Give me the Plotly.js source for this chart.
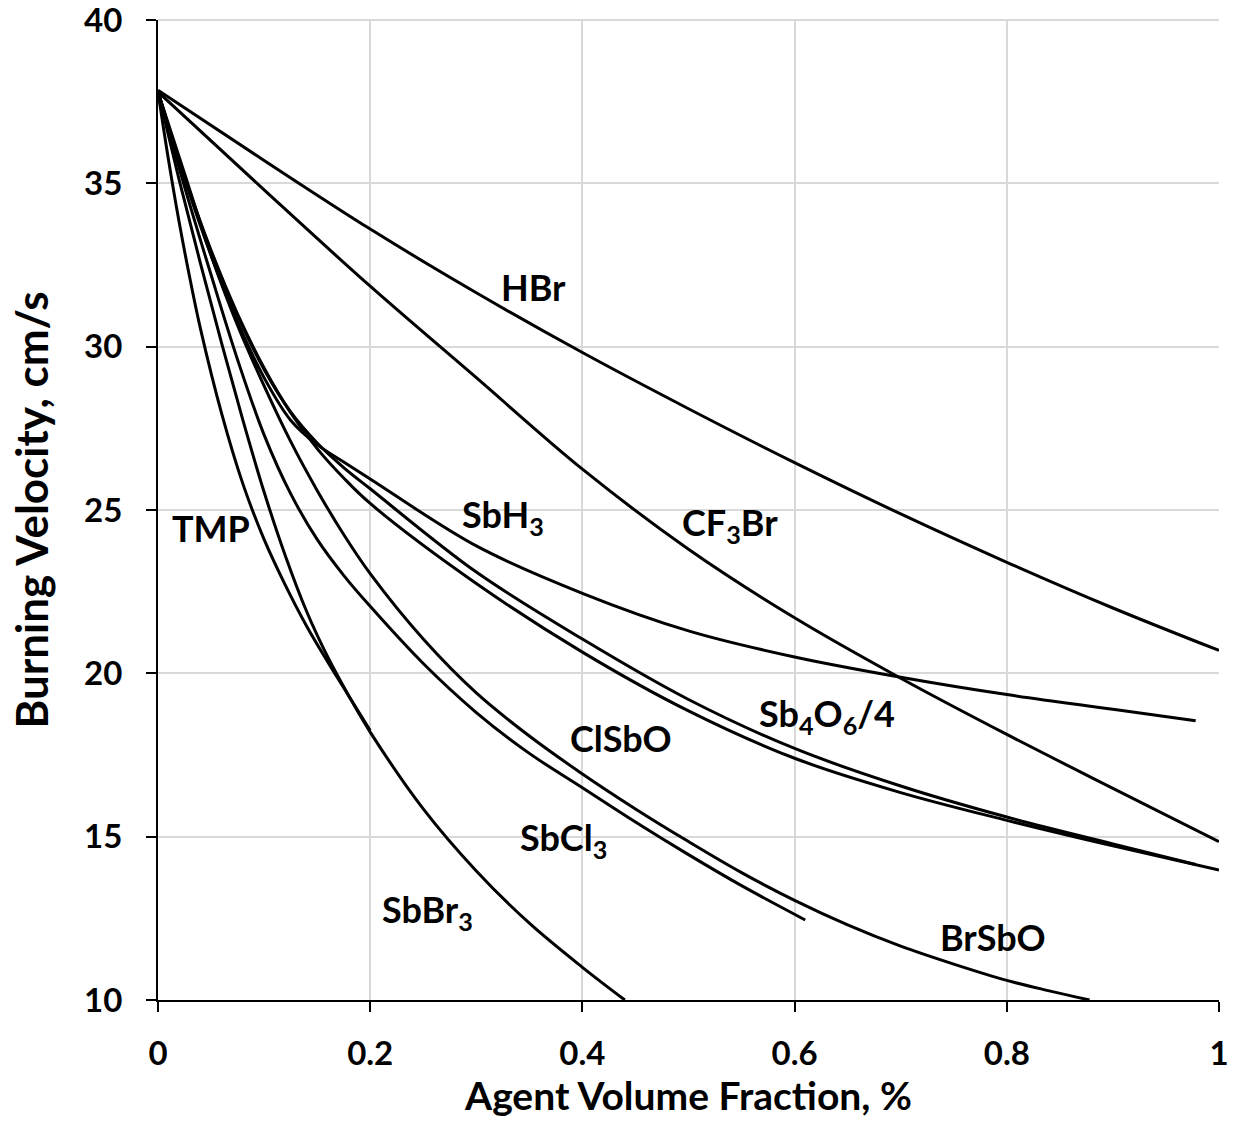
<!DOCTYPE html>
<html>
<head>
<meta charset="utf-8">
<script src="https://cdn.plot.ly/plotly-3.0.1.min.js"></script>
<style>html,body{margin:0;padding:0;background:#fff;}#chart{width:1237px;height:1126px;}</style>
</head>
<body>
<div id="chart"></div>
<script>
// Data
const hbrX   = [0, 0.1, 0.2, 0.3, 0.4, 0.5, 0.6, 0.7, 0.8, 0.9, 1.0];
const hbrY   = [37.85, 35.7, 33.6, 31.65, 29.82, 28.1, 26.45, 24.88, 23.4, 22.0, 20.7];

const cf3brX = [0, 0.1, 0.2, 0.3, 0.4, 0.5, 0.6, 0.7, 0.8, 0.9, 1.0];
const cf3brY = [37.8, 34.8, 31.85, 29.05, 26.25, 23.8, 21.7, 19.85, 18.13, 16.48, 14.85];

const sbh3X  = [0, 0.025, 0.05, 0.075, 0.1, 0.125, 0.15, 0.175, 0.2, 0.3, 0.4, 0.5, 0.6, 0.7, 0.8, 0.9, 0.978];
const sbh3Y  = [37.8, 35.15, 32.8, 30.75, 29.05, 27.75, 27.0, 26.47, 25.95, 23.9, 22.45, 21.3, 20.5, 19.88, 19.35, 18.9, 18.55];

const sb4o6X = [0, 0.025, 0.05, 0.075, 0.1, 0.125, 0.15, 0.175, 0.2, 0.3, 0.4, 0.5, 0.6, 0.7, 0.8, 0.9, 0.978];
const sb4o6Y = [37.8, 35.2, 32.9, 30.95, 29.3, 28.0, 27.05, 26.3, 25.65, 23.1, 21.05, 19.2, 17.7, 16.55, 15.6, 14.78, 14.15];

const clsboX = [0, 0.025, 0.05, 0.075, 0.1, 0.125, 0.15, 0.175, 0.2, 0.3, 0.4, 0.5, 0.6, 0.7, 0.8, 0.9, 1.0];
const clsboY = [37.8, 35.2, 32.95, 31.0, 29.35, 27.98, 26.88, 25.98, 25.2, 22.75, 20.65, 18.85, 17.4, 16.35, 15.5, 14.72, 13.98];

const brsboX = [0, 0.025, 0.05, 0.075, 0.1, 0.125, 0.15, 0.175, 0.2, 0.25, 0.3, 0.35, 0.4, 0.45, 0.5, 0.55, 0.6, 0.65, 0.7, 0.75, 0.8, 0.84, 0.878];
const brsboY = [37.8, 35.3, 32.8, 30.65, 28.8, 27.1, 25.6, 24.25, 23.05, 21.05, 19.4, 18.08, 16.92, 15.85, 14.85, 13.9, 13.05, 12.3, 11.65, 11.1, 10.6, 10.28, 10.0];

const sbcl3X = [0, 0.025, 0.05, 0.075, 0.1, 0.125, 0.15, 0.175, 0.2, 0.25, 0.3, 0.35, 0.4, 0.45, 0.5, 0.55, 0.61];
const sbcl3Y = [37.8, 34.9, 32.2, 29.6, 27.3, 25.5, 24.1, 23.0, 22.05, 20.3, 18.8, 17.55, 16.5, 15.45, 14.45, 13.5, 12.45];

const sbbr3X = [0, 0.02, 0.04, 0.06, 0.08, 0.1, 0.12, 0.14, 0.16, 0.18, 0.2, 0.25, 0.3, 0.35, 0.4, 0.44];
const sbbr3Y = [37.8, 35.1, 32.55, 30.1, 27.75, 25.55, 23.6, 21.9, 20.5, 19.3, 18.2, 15.85, 13.95, 12.35, 11.0, 10.0];

const tmpX   = [0, 0.01, 0.02, 0.03, 0.04, 0.06, 0.08, 0.1, 0.12, 0.14, 0.16, 0.18, 0.2];
const tmpY   = [37.8, 35.7, 33.8, 32.1, 30.55, 27.95, 25.8, 24.1, 22.7, 21.45, 20.35, 19.3, 18.25];

const seriesNames = ['HBr', 'CF3Br', 'SbH3', 'Sb4O6/4', 'ClSbO', 'BrSbO', 'SbCl3', 'SbBr3', 'TMP'];

const labelText = ['HBr', 'CF<sub>3</sub>Br', 'SbH<sub>3</sub>', 'TMP', 'Sb<sub>4</sub>O<sub>6</sub>/4', 'ClSbO', 'SbCl<sub>3</sub>', 'SbBr<sub>3</sub>', 'BrSbO'];
const labelX    = [0.354, 0.539, 0.325, 0.050, 0.631, 0.436, 0.382, 0.254, 0.787];
const labelY    = [31.83, 24.57, 24.79, 24.45, 18.72, 18.02, 14.90, 12.70, 11.93];

const xTicks = [0, 0.2, 0.4, 0.6, 0.8, 1];
const xTickText = ['0', '0.2', '0.4', '0.6', '0.8', '1'];
const yTicks = [10, 15, 20, 25, 30, 35, 40];

const allX = [hbrX, cf3brX, sbh3X, sb4o6X, clsboX, brsboX, sbcl3X, sbbr3X, tmpX];
const allY = [hbrY, cf3brY, sbh3Y, sb4o6Y, clsboY, brsboY, sbcl3Y, sbbr3Y, tmpY];

const FONT = 'Lato, "Open Sans", sans-serif';

const traces = allX.map((xs, i) => ({
  x: xs, y: allY[i], name: seriesNames[i],
  type: 'scatter', mode: 'lines',
  line: {color: '#000000', width: 3, shape: 'spline', smoothing: 1},
  hoverinfo: 'x+y+name'
}));

const annotations = labelText.map((t, i) => ({
  x: labelX[i], y: labelY[i], xref: 'x', yref: 'y',
  text: t, showarrow: false,
  font: {family: FONT, size: 36, color: '#000000', weight: 'bold'},
  xanchor: 'center', yanchor: 'middle'
}));

const layout = {
  width: 1237, height: 1126,
  margin: {l: 158, r: 18, t: 20, b: 126},
  paper_bgcolor: '#ffffff', plot_bgcolor: '#ffffff',
  showlegend: false,
  font: {family: FONT, color: '#000000'},
  xaxis: {
    range: [0, 1], tickvals: xTicks, ticktext: xTickText,
    showgrid: true, gridcolor: '#d9d9d9', gridwidth: 2,
    zeroline: false, showline: true, linecolor: '#000000', linewidth: 2,
    ticks: 'outside', ticklen: 10, tickwidth: 1.5, tickcolor: '#000000',
    ticklabelstandoff: 13, ticklabeloverflow: 'allow',
    tickfont: {family: FONT, size: 33, color: '#000000', weight: 'bold'},
    title: {text: 'Agent Volume Fraction, %', standoff: 10,
            font: {family: FONT, size: 39, color: '#000000', weight: 'bold'}},
    automargin: false, fixedrange: true
  },
  yaxis: {
    range: [10, 40], tickvals: yTicks,
    showgrid: true, gridcolor: '#d9d9d9', gridwidth: 2,
    zeroline: false, showline: true, linecolor: '#000000', linewidth: 2,
    ticks: 'outside', ticklen: 10, tickwidth: 1.5, tickcolor: '#000000',
    ticklabelstandoff: 17, ticklabeloverflow: 'allow',
    tickfont: {family: FONT, size: 33, color: '#000000', weight: 'bold'},
    title: {text: 'Burning Velocity, cm/s', standoff: 22,
            font: {family: FONT, size: 44, color: '#000000', weight: 'bold'}},
    automargin: false, fixedrange: true
  },
  shapes: [{type: 'line', xref: 'paper', yref: 'paper', x0: 0, x1: 1, y0: 1, y1: 1,
            line: {color: '#d9d9d9', width: 2}, layer: 'below'}],
  annotations: annotations
};

Plotly.newPlot('chart', traces, layout, {displayModeBar: false});
</script>
</body>
</html>
